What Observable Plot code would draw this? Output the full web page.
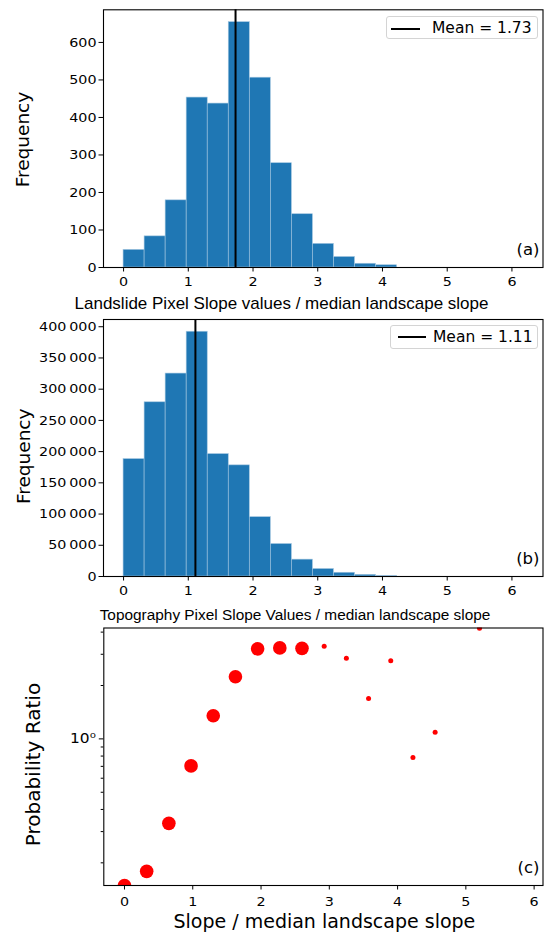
<!DOCTYPE html>
<html>
<head>
<meta charset="utf-8">
<script src="https://cdn.jsdelivr.net/npm/d3@7"></script>
<script src="https://cdn.jsdelivr.net/npm/@observablehq/plot@0.6"></script>
<style>
  html, body { margin: 0; padding: 0; background: #fff; }
  #wrap { position: relative; width: 544px; height: 932px; overflow: hidden; font-family: "DejaVu Sans", sans-serif; }
  #wrap > svg { position: absolute; left: 0; }
  .legend { position: absolute; box-sizing: border-box; border: 1px solid #d4d4d4; border-radius: 3px;
            background: rgba(255,255,255,0.85); color: #000; font: 15.5px "DejaVu Sans", sans-serif; }
  .legend .sw { position: absolute; height: 2px; background: #000; }
  .legend .lt { position: absolute; white-space: nowrap; line-height: 1; }
</style>
</head>
<body>
<div id="wrap"></div>
<script>
// ---------------- data ----------------
const binEdges = [0, 0.325, 0.65, 0.975, 1.3, 1.625, 1.95, 2.275, 2.6, 2.925, 3.25,
                  3.575, 3.9, 4.225, 4.55, 4.875, 5.2, 5.525, 5.85, 6.175];
const landslideCounts = [47, 83, 179, 453, 437, 654, 506, 278, 142, 63, 28, 10, 6, 0, 0, 0, 0, 0, 0];
const topographyCounts = [188000, 279000, 325000, 392000, 196000, 178000, 95000, 52000, 27000,
                          12000, 6000, 2700, 1000, 0, 0, 0, 0, 0, 0];
const meanLandslide = 1.73;
const meanTopography = 1.11;

const ratioX = [0, 0.325, 0.65, 0.975, 1.3, 1.625, 1.95, 2.275, 2.6, 2.925, 3.25, 3.575, 3.9, 4.225, 4.55, 5.2];
const ratioY = [0.149, 0.179, 0.334, 0.704, 1.35, 2.24, 3.22, 3.26, 3.24, 3.33, 2.85, 1.69, 2.76, 0.785, 1.09, 4.2];

const xTicks = [0, 1, 2, 3, 4, 5, 6];
const yTicksA = [0, 100, 200, 300, 400, 500, 600];
const yTicksB = [0, 50000, 100000, 150000, 200000, 250000, 300000, 350000, 400000];
const yMajorC = [1];
const yMinorC = [0.2, 0.3, 0.4, 0.5, 0.6, 0.7, 0.8, 0.9, 2, 3, 4];

const labelA = "Landslide Pixel Slope values / median landscape slope";
const labelB = "Topography Pixel Slope Values / median landscape slope";
const labelC = "Slope / median landscape slope";
const yLabelHist = "Frequency";
const yLabelC = "Probability Ratio";

// ---------------- build ----------------
const wrap = document.getElementById("wrap");
const blue = "#1f77b4";
const baseStyle = {fontFamily: "DejaVu Sans, sans-serif", fontSize: "13px", color: "#000",
                   background: "transparent", overflow: "visible"};

function bins(counts) {
  return counts.map((c, i) => ({x1: binEdges[i], x2: binEdges[i + 1], count: c}));
}

// widen tick label glyphs horizontally (the reference's tick text is wide)
function widenTicks(svg, sx) {
  svg.querySelectorAll('g[aria-label$="tick label"] text').forEach(t => {
    const tr = t.getAttribute("transform") || "";
    t.setAttribute("transform", tr + ` scale(${sx},1)`);
  });
}

function histPanel(o) {
  const svg = Plot.plot({
    width: 544, height: o.height,
    marginTop: o.mt, marginBottom: o.mb, marginLeft: 103, marginRight: 1.5,
    style: baseStyle,
    x: {domain: [-0.31, 6.48]},
    y: {domain: [0, o.ymax]},
    marks: [
      Plot.rectY(bins(o.counts), {x1: "x1", x2: "x2", y: "count", fill: blue, stroke: "#a3c6e0", strokeWidth: 0.6}),
      Plot.ruleX([o.mean], {stroke: "#000", strokeWidth: 2}),
      Plot.frame({stroke: "#000", strokeWidth: 1.1}),
      Plot.axisX({ticks: xTicks, tickSize: 4.5, tickPadding: 5, label: null, tickFormat: d => String(d)}),
      Plot.axisY({ticks: o.yTicks, tickSize: 4.5, tickPadding: 2.5, label: null, tickFormat: o.yFmt}),
      Plot.text([o.tag], {frameAnchor: "bottom-right", textAnchor: "end", lineAnchor: "bottom",
                          dx: -3.5, dy: -12.4, fontSize: 16.5}),
      Plot.text([o.xlabel], {frameAnchor: "bottom", textAnchor: "middle", lineAnchor: "bottom",
                             dx: o.xdx, dy: o.xdy, fontSize: o.xfs, fontFamily: "Liberation Sans, Arial, sans-serif"}),
      Plot.text([yLabelHist], {frameAnchor: "left", rotate: -90, textAnchor: "middle", lineAnchor: "bottom",
                               dx: o.ydx, dy: o.ydy, fontSize: 18.5})
    ]
  });
  widenTicks(svg, 1.1);
  svg.style.top = o.top + "px";
  wrap.appendChild(svg);
}

const fmtSpace = d => d3.format(",")(d).replace(/,/g, "\u2009");

histPanel({counts: landslideCounts, mean: meanLandslide, ymax: 687, yTicks: yTicksA, yFmt: d => String(d),
           top: 0, height: 310, mt: 9.3, mb: 43, tag: "(a)",
           xlabel: labelA, xdx: -41.75, xdy: 41.3, xfs: 17, ydx: -74.7, ydy: 0.9});
histPanel({counts: topographyCounts, mean: meanTopography, ymax: 411600, yTicks: yTicksB, yFmt: fmtSpace,
           top: 310, height: 310, mt: 9, mb: 44, tag: "(b)",
           xlabel: labelB, xdx: -28.25, xdy: 43, xfs: 15.4, ydx: -74, ydy: 8.3});

// Panel (c)
const ratioData = ratioX.map((x, i) => ({x, y: ratioY[i]}));
const svgC = Plot.plot({
  width: 544, height: 312,
  marginTop: 7.5, marginBottom: 47, marginLeft: 103.3, marginRight: 1.5,
  style: baseStyle,
  x: {domain: [-0.303, 6.13]},
  y: {type: "log", domain: [0.149, 4.22]},
  marks: [
    Plot.dot(ratioData, {filter: d => d.x <= 2.6, x: "x", y: "y", r: 6.8, fill: "#ff0000", stroke: "none", clip: true}),
    Plot.dot(ratioData, {filter: d => d.x > 2.6, x: "x", y: "y", r: 2.5, fill: "#ff0000", stroke: "none", clip: true}),
    Plot.frame({stroke: "#000", strokeWidth: 1.1}),
    Plot.axisX({ticks: xTicks, tickSize: 4.5, tickPadding: 6.5, label: null, tickFormat: d => String(d)}),
    Plot.axisY({ticks: yMinorC, tickSize: 2.6, tickPadding: 2, label: null, tickFormat: () => ""}),
    Plot.axisY({ticks: yMajorC, tickSize: 4.5, tickPadding: 3.5, label: null, tickFormat: () => "10\u2070", fontSize: 14}),
    Plot.text(["(c)"], {frameAnchor: "bottom-right", textAnchor: "end", lineAnchor: "bottom",
                        dx: -3.5, dy: -12.4, fontSize: 16.5}),
    Plot.text([labelC], {frameAnchor: "bottom", textAnchor: "middle", lineAnchor: "bottom",
                         dx: 1, dy: 42, fontSize: 19}),
    Plot.text([yLabelC], {frameAnchor: "left", rotate: -90, textAnchor: "middle", lineAnchor: "bottom",
                          dx: -64, dy: 7.8, fontSize: 20})
  ]
});
widenTicks(svgC, 1.1);
svgC.style.top = "620px";
wrap.appendChild(svgC);

// Legends
function legend(mean, box, swLeft, swWidth, swTop, textLeft, textTop) {
  const div = document.createElement("div");
  div.className = "legend";
  Object.assign(div.style, {left: box[0] + "px", top: box[1] + "px", width: box[2] + "px", height: box[3] + "px"});
  const sw = document.createElement("span");
  sw.className = "sw";
  Object.assign(sw.style, {left: swLeft + "px", width: swWidth + "px", top: swTop + "px"});
  const t = document.createElement("span");
  t.className = "lt";
  Object.assign(t.style, {left: textLeft + "px", top: textTop + "px"});
  t.textContent = `Mean = ${mean.toFixed(2)}`;
  div.appendChild(sw); div.appendChild(t);
  wrap.appendChild(div);
}
legend(meanLandslide, [386, 16, 152, 23], 4, 29, 10.5, 45, 3.5);
legend(meanTopography, [390, 325, 148, 23.5], 7, 28, 9.8, 42, 4);
</script>
</body>
</html>
